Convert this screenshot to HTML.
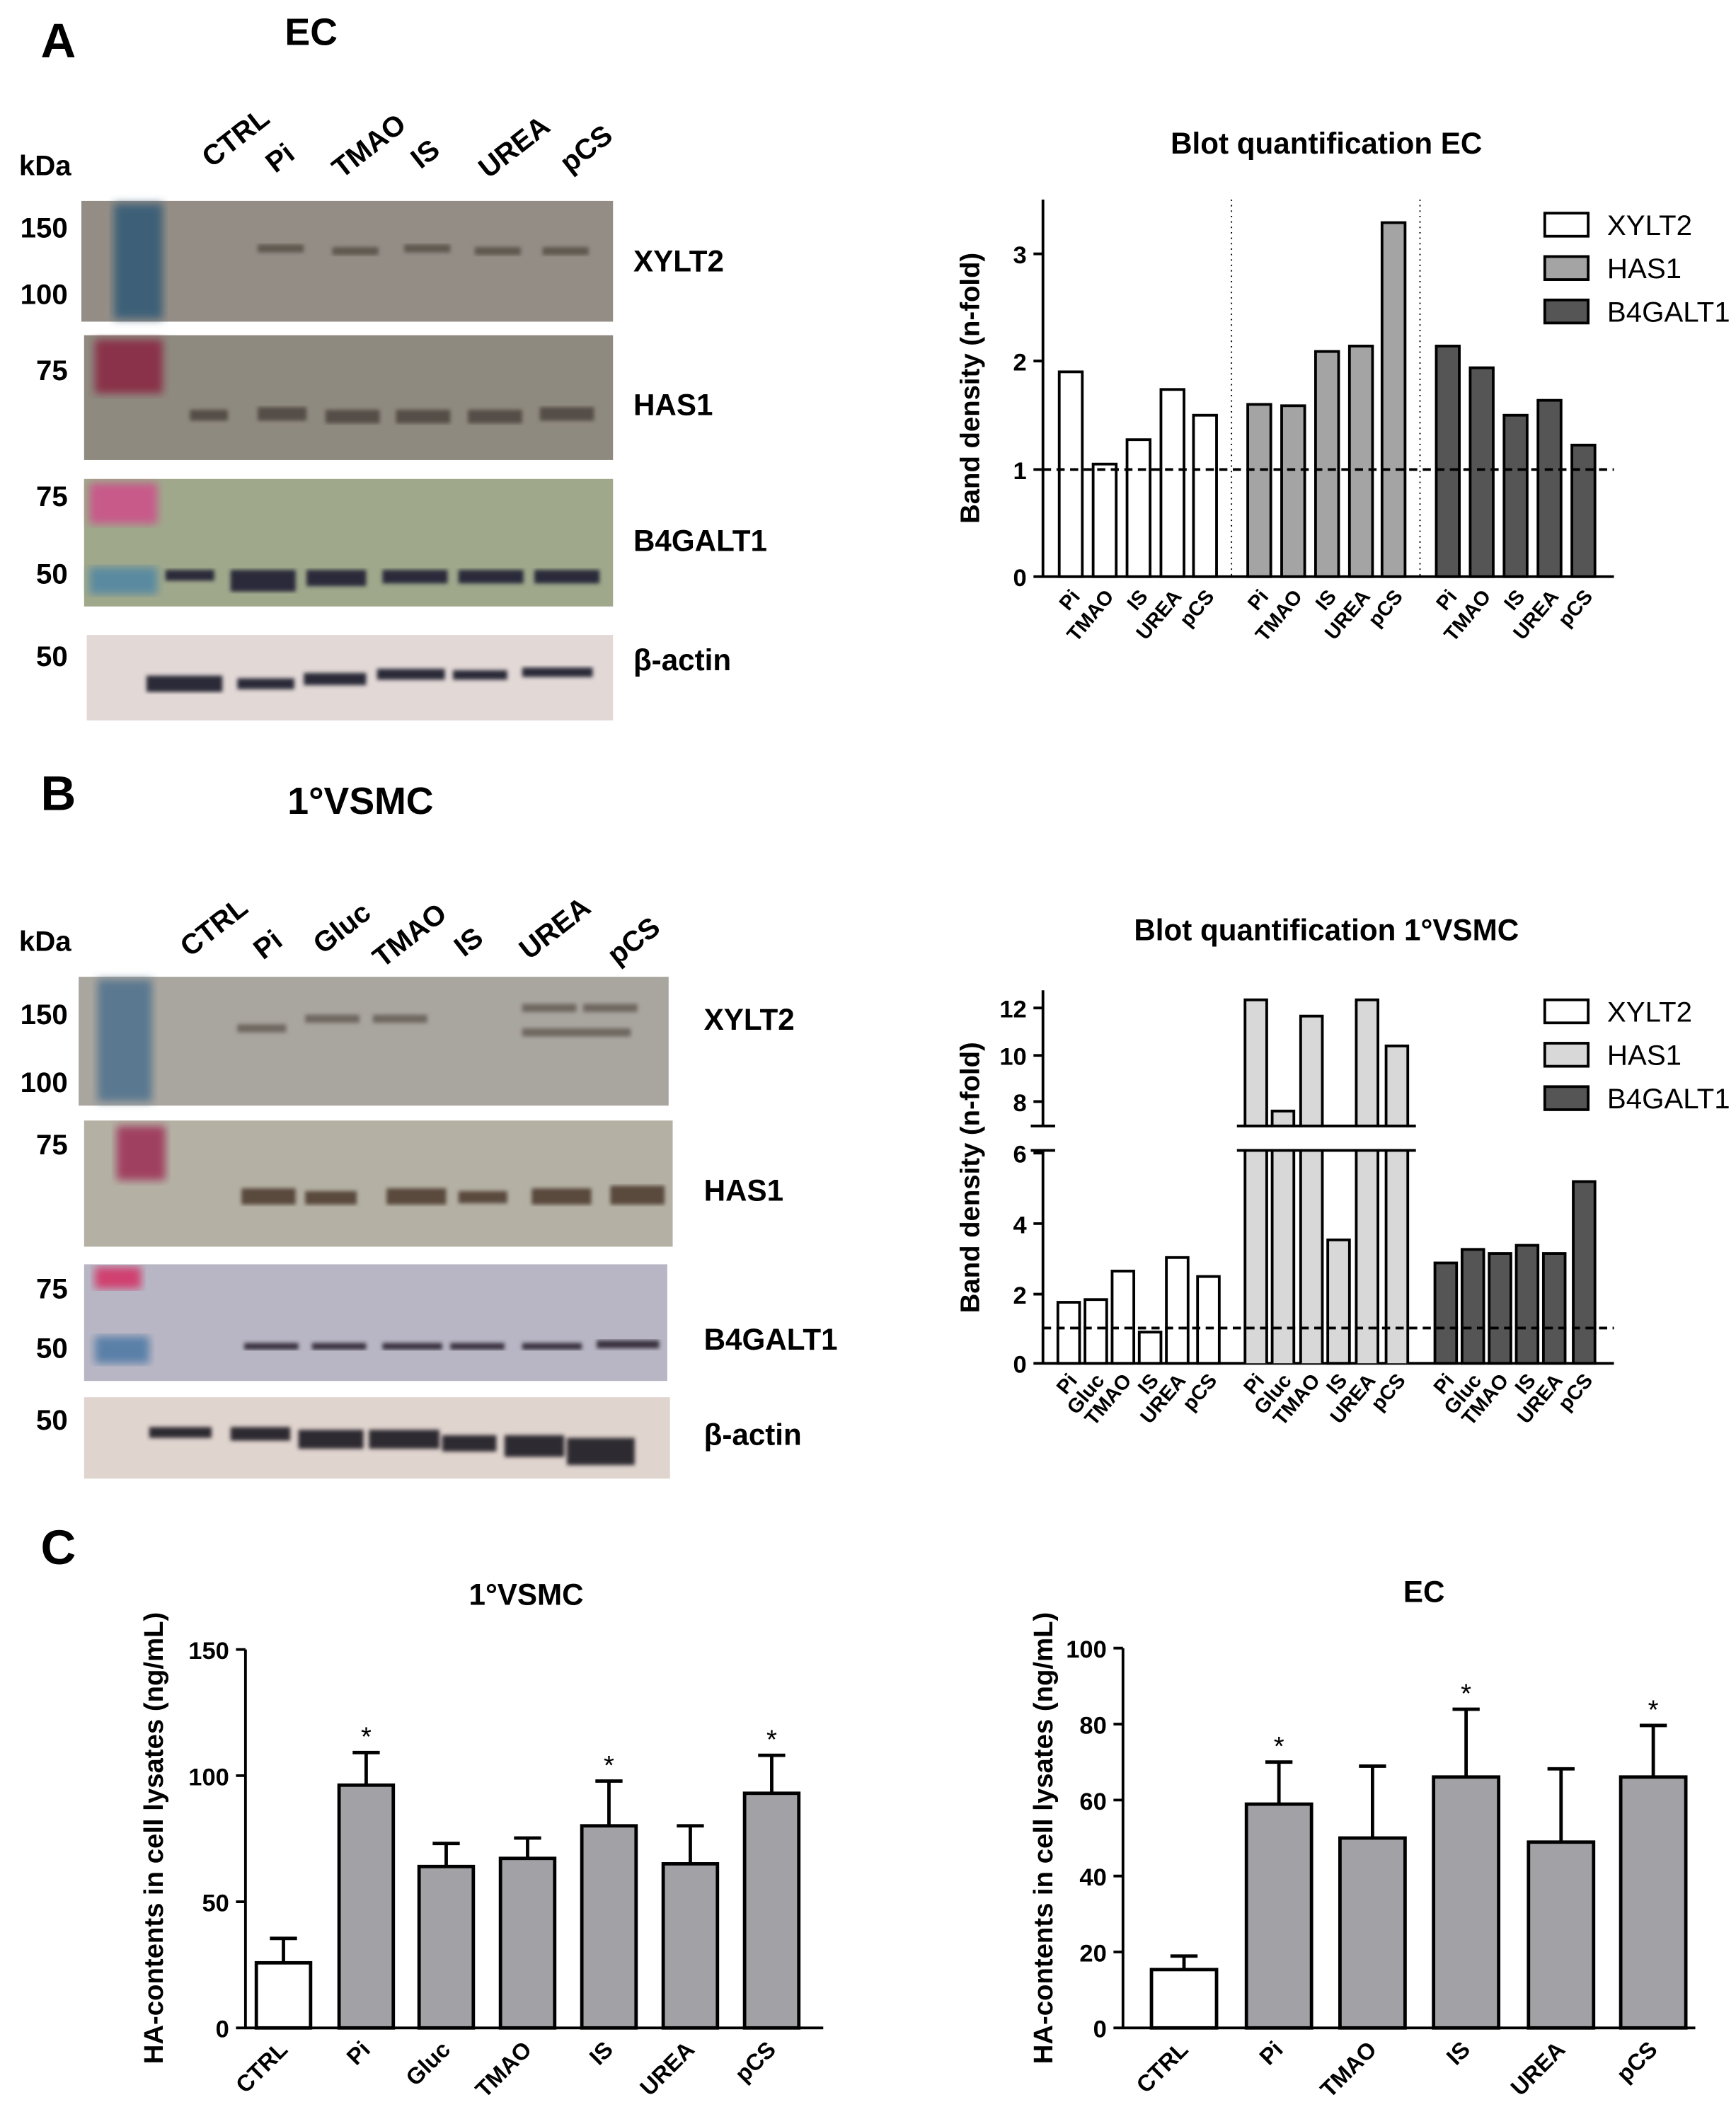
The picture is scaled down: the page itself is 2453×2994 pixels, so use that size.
<!DOCTYPE html><html><head><style>body{margin:0;background:#fff}svg{display:block}text{font-family:"Liberation Sans",Arial,sans-serif}</style></head><body>
<svg width="2453" height="2994" viewBox="0 0 1280 1562" xmlns="http://www.w3.org/2000/svg">
<defs><filter id="bl"><feGaussianBlur stdDeviation="3"/></filter><filter id="bl2"><feGaussianBlur stdDeviation="1.5"/></filter></defs>
<g font-weight="bold" fill="#000">
<text x="30" y="42" font-size="36">A</text>
<text x="210" y="33" font-size="28">EC</text>
<text x="30" y="597" font-size="36">B</text>
<text x="212" y="600" font-size="28">1°VSMC</text>
<text x="30" y="1153" font-size="36">C</text>
<text x="14" y="129" font-size="21">kDa</text>
<text x="14" y="701" font-size="21">kDa</text>
<g font-size="21" text-anchor="end">
<text x="50" y="175">150</text><text x="50" y="224">100</text><text x="50" y="280">75</text>
<text x="50" y="373">75</text><text x="50" y="430">50</text><text x="50" y="491">50</text>
<text x="50" y="755">150</text><text x="50" y="805">100</text><text x="50" y="851">75</text>
<text x="50" y="957">75</text><text x="50" y="1001">50</text><text x="50" y="1054">50</text>
</g>
<g font-size="22">
<text x="467" y="200">XYLT2</text><text x="467" y="306">HAS1</text><text x="467" y="406">B4GALT1</text><text x="467" y="494">β-actin</text>
<text x="519" y="759">XYLT2</text><text x="519" y="885">HAS1</text><text x="519" y="995">B4GALT1</text><text x="519" y="1065">β-actin</text>
</g>
<g font-size="21">
<text transform="translate(156,124) rotate(-38)">CTRL</text>
<text transform="translate(203,128) rotate(-38)">Pi</text>
<text transform="translate(252,132) rotate(-38)">TMAO</text>
<text transform="translate(310,125) rotate(-38)">IS</text>
<text transform="translate(360,132) rotate(-38)">UREA</text>
<text transform="translate(420,128) rotate(-38)">pCS</text>
<text transform="translate(140,706) rotate(-38)">CTRL</text>
<text transform="translate(194,708) rotate(-38)">Pi</text>
<text transform="translate(238,704) rotate(-38)">Gluc</text>
<text transform="translate(282,714) rotate(-38)">TMAO</text>
<text transform="translate(342,706) rotate(-38)">IS</text>
<text transform="translate(390,708) rotate(-38)">UREA</text>
<text transform="translate(455,712) rotate(-38)">pCS</text>
</g>
</g>
<!-- blots A -->
<rect x="60" y="148" width="392" height="89" fill="#938d86"/>
<rect x="84" y="150" width="36" height="85" fill="#3e6078" filter="url(#bl)"/>
<g fill="#5e5850" filter="url(#bl2)"><rect x="190" y="180" width="34" height="6"/><rect x="245" y="182" width="34" height="6"/><rect x="298" y="180" width="34" height="6"/><rect x="350" y="182" width="34" height="6"/><rect x="400" y="182" width="34" height="6"/></g>
<rect x="62" y="247" width="390" height="92" fill="#8f8a80"/>
<rect x="70" y="250" width="50" height="40" fill="#8a3048" filter="url(#bl)"/>
<g fill="#554e46" filter="url(#bl2)"><rect x="140" y="302" width="28" height="8"/><rect x="190" y="300" width="36" height="10"/><rect x="240" y="302" width="40" height="10"/><rect x="292" y="302" width="40" height="10"/><rect x="345" y="302" width="40" height="10"/><rect x="398" y="300" width="40" height="10"/></g>
<rect x="62" y="353" width="390" height="94" fill="#a0a88c"/>
<rect x="66" y="356" width="50" height="30" fill="#c85a8a" filter="url(#bl)"/>
<rect x="66" y="418" width="50" height="20" fill="#5a8aa0" filter="url(#bl)"/>
<g fill="#2a2a3a" filter="url(#bl2)"><rect x="122" y="420" width="36" height="8"/><rect x="170" y="420" width="48" height="16"/><rect x="226" y="420" width="44" height="12"/><rect x="282" y="420" width="48" height="10"/><rect x="338" y="420" width="48" height="10"/><rect x="394" y="420" width="48" height="10"/></g>
<rect x="64" y="468" width="388" height="63" fill="#e2d8d6"/>
<g fill="#2a2a38" filter="url(#bl2)"><rect x="108" y="498" width="56" height="12"/><rect x="175" y="500" width="42" height="8"/><rect x="224" y="496" width="46" height="9"/><rect x="278" y="493" width="50" height="8"/><rect x="334" y="494" width="40" height="7"/><rect x="385" y="492" width="52" height="7"/></g>
<!-- blots B -->
<rect x="58" y="720" width="435" height="95" fill="#a9a59f"/>
<rect x="72" y="722" width="40" height="90" fill="#5a7890" filter="url(#bl)"/>
<g fill="#6e6860" filter="url(#bl2)"><rect x="175" y="755" width="36" height="6"/><rect x="225" y="748" width="40" height="6"/><rect x="275" y="748" width="40" height="6"/><rect x="385" y="740" width="40" height="6"/><rect x="430" y="740" width="40" height="6"/><rect x="385" y="758" width="80" height="6"/></g>
<rect x="62" y="826" width="434" height="93" fill="#b4b1a4"/>
<rect x="86" y="830" width="36" height="40" fill="#a04060" filter="url(#bl)"/>
<g fill="#5a4a3c" filter="url(#bl2)"><rect x="178" y="876" width="40" height="12"/><rect x="225" y="878" width="38" height="10"/><rect x="285" y="876" width="44" height="12"/><rect x="338" y="878" width="36" height="9"/><rect x="392" y="876" width="44" height="12"/><rect x="450" y="874" width="40" height="14"/></g>
<rect x="62" y="932" width="430" height="86" fill="#b8b6c4"/>
<rect x="70" y="934" width="34" height="16" fill="#d04070" filter="url(#bl)"/>
<rect x="70" y="985" width="40" height="20" fill="#5a80a8" filter="url(#bl)"/>
<g fill="#3a3040" filter="url(#bl2)"><rect x="180" y="990" width="40" height="5"/><rect x="230" y="990" width="40" height="5"/><rect x="282" y="990" width="44" height="5"/><rect x="332" y="990" width="40" height="5"/><rect x="385" y="990" width="44" height="5"/><rect x="440" y="988" width="46" height="6"/></g>
<rect x="62" y="1030" width="432" height="60" fill="#e0d4ce"/>
<g fill="#2e2a30" filter="url(#bl2)"><rect x="110" y="1052" width="46" height="8"/><rect x="170" y="1052" width="44" height="10"/><rect x="220" y="1054" width="48" height="14"/><rect x="272" y="1054" width="52" height="14"/><rect x="326" y="1058" width="40" height="12"/><rect x="372" y="1058" width="44" height="16"/><rect x="418" y="1060" width="50" height="20"/></g>

<!-- Chart A right -->
<g>
<text x="978" y="113" font-size="22" font-weight="bold" text-anchor="middle">Blot quantification EC</text>
<text transform="translate(722,286) rotate(-90)" font-size="20" font-weight="bold" text-anchor="middle">Band density (n-fold)</text>
<path d="M769,147V425H1190M762,425H769M762,346H769M762,266H769M762,187H769" stroke="#000" stroke-width="2" fill="none"/>
<g font-size="18" font-weight="bold" text-anchor="end"><text x="757" y="432">0</text><text x="757" y="353">1</text><text x="757" y="273">2</text><text x="757" y="194">3</text></g>
<path d="M908,147V425M1047,147V425" stroke="#000" stroke-dasharray="1,3"/>
<g stroke="#000" stroke-width="2">
<g fill="#fff"><rect x="781" y="274" width="17" height="151"/><rect x="806" y="342" width="17" height="83"/><rect x="831" y="324" width="17" height="101"/><rect x="856" y="287" width="17" height="138"/><rect x="880" y="306" width="17" height="119"/></g>
<g fill="#a4a4a4"><rect x="920" y="298" width="17" height="127"/><rect x="945" y="299" width="17" height="126"/><rect x="970" y="259" width="17" height="166"/><rect x="995" y="255" width="17" height="170"/><rect x="1019" y="164" width="17" height="261"/></g>
<g fill="#555"><rect x="1059" y="255" width="17" height="170"/><rect x="1084" y="271" width="17" height="154"/><rect x="1109" y="306" width="17" height="119"/><rect x="1134" y="295" width="17" height="130"/><rect x="1159" y="328" width="17" height="97"/></g>
</g>
<path d="M769,346H1190" stroke="#000" stroke-width="2" stroke-dasharray="6,4"/>
<g font-size="15" font-weight="bold" text-anchor="end">
<g transform="translate(0,440)"><text transform="translate(797,0) rotate(-50)">Pi</text><text transform="translate(822,0) rotate(-50)">TMAO</text><text transform="translate(847,0) rotate(-50)">IS</text><text transform="translate(872,0) rotate(-50)">UREA</text><text transform="translate(896,0) rotate(-50)">pCS</text>
<text transform="translate(936,0) rotate(-50)">Pi</text><text transform="translate(961,0) rotate(-50)">TMAO</text><text transform="translate(986,0) rotate(-50)">IS</text><text transform="translate(1011,0) rotate(-50)">UREA</text><text transform="translate(1035,0) rotate(-50)">pCS</text>
<text transform="translate(1075,0) rotate(-50)">Pi</text><text transform="translate(1100,0) rotate(-50)">TMAO</text><text transform="translate(1125,0) rotate(-50)">IS</text><text transform="translate(1150,0) rotate(-50)">UREA</text><text transform="translate(1175,0) rotate(-50)">pCS</text></g>
</g>
<g stroke="#000" stroke-width="2"><rect x="1139" y="157" width="32" height="17" fill="#fff"/><rect x="1139" y="189" width="32" height="17" fill="#a4a4a4"/><rect x="1139" y="221" width="32" height="17" fill="#555"/></g>
<g font-size="21"><text x="1185" y="173">XYLT2</text><text x="1185" y="205">HAS1</text><text x="1185" y="237">B4GALT1</text></g>

<!-- Chart B right -->
<text x="978" y="693" font-size="22" font-weight="bold" text-anchor="middle">Blot quantification 1°VSMC</text>
<text transform="translate(722,868) rotate(-90)" font-size="20" font-weight="bold" text-anchor="middle">Band density (n-fold)</text>
<path d="M769,730V830M769,848V1005H1190M762,1005H769M762,954H769M762,902H769M762,850H769M762,812H769M762,778H769M762,743H769M760,830H778M760,848H778" stroke="#000" stroke-width="2" fill="none"/>
<g font-size="18" font-weight="bold" text-anchor="end"><text x="757" y="1012">0</text><text x="757" y="961">2</text><text x="757" y="909">4</text><text x="757" y="857">6</text><text x="757" y="819">8</text><text x="757" y="785">10</text><text x="757" y="750">12</text></g>
<g stroke="#000" stroke-width="2">
<g fill="#fff"><rect x="780" y="960" width="16" height="45"/><rect x="800" y="958" width="16" height="47"/><rect x="820" y="937" width="16" height="68"/><rect x="840" y="982" width="16" height="23"/><rect x="860" y="927" width="16" height="78"/><rect x="883" y="941" width="16" height="64"/></g>
<g fill="#d8d8d8"><path d="M918,1005V737H934V1005M938,1005V819H954V1005M959,1005V749H975V1005M1000,1005V737H1016V1005M1022,1005V771H1038V1005"/><rect x="979" y="914" width="16" height="91"/></g>
<g fill="#555"><rect x="1058" y="931" width="16" height="74"/><rect x="1078" y="921" width="16" height="84"/><rect x="1098" y="924" width="16" height="81"/><rect x="1118" y="918" width="16" height="87"/><rect x="1138" y="924" width="16" height="81"/><rect x="1160" y="871" width="16" height="134"/></g>
</g>
<rect x="910" y="831" width="140" height="16" fill="#fff"/>
<path d="M912,830H1044M912,848H1044" stroke="#000" stroke-width="2"/>
<path d="M769,979H1190" stroke="#000" stroke-width="2" stroke-dasharray="6,4"/>
<g font-size="15" font-weight="bold" text-anchor="end"><g transform="translate(0,1018)">
<text transform="translate(795,0) rotate(-50)">Pi</text><text transform="translate(815,0) rotate(-50)">Gluc</text><text transform="translate(835,0) rotate(-50)">TMAO</text><text transform="translate(855,0) rotate(-50)">IS</text><text transform="translate(875,0) rotate(-50)">UREA</text><text transform="translate(898,0) rotate(-50)">pCS</text>
<text transform="translate(933,0) rotate(-50)">Pi</text><text transform="translate(953,0) rotate(-50)">Gluc</text><text transform="translate(974,0) rotate(-50)">TMAO</text><text transform="translate(994,0) rotate(-50)">IS</text><text transform="translate(1015,0) rotate(-50)">UREA</text><text transform="translate(1037,0) rotate(-50)">pCS</text>
<text transform="translate(1073,0) rotate(-50)">Pi</text><text transform="translate(1093,0) rotate(-50)">Gluc</text><text transform="translate(1113,0) rotate(-50)">TMAO</text><text transform="translate(1133,0) rotate(-50)">IS</text><text transform="translate(1153,0) rotate(-50)">UREA</text><text transform="translate(1175,0) rotate(-50)">pCS</text></g></g>
<g stroke="#000" stroke-width="2"><rect x="1139" y="737" width="32" height="17" fill="#fff"/><rect x="1139" y="769" width="32" height="17" fill="#d8d8d8"/><rect x="1139" y="801" width="32" height="17" fill="#555"/></g>
<g font-size="21"><text x="1185" y="753">XYLT2</text><text x="1185" y="785">HAS1</text><text x="1185" y="817">B4GALT1</text></g>

<!-- C left -->
<text x="388" y="1183" font-size="22" font-weight="bold" text-anchor="middle">1°VSMC</text>
<text transform="translate(120,1355) rotate(-90)" font-size="20" font-weight="bold" text-anchor="middle">HA-contents in cell lysates (ng/mL)</text>
<path d="M181,1216V1495H607M174,1495H181M174,1402H181M174,1309H181M174,1216H181" stroke="#000" stroke-width="2" fill="none"/>
<g font-size="18" font-weight="bold" text-anchor="end"><text x="169" y="1502">0</text><text x="169" y="1409">50</text><text x="169" y="1316">100</text><text x="169" y="1223">150</text></g>
<g stroke="#000" stroke-width="2.5" fill="none"><path d="M209,1447V1429M199,1429H219M270,1316V1292M260,1292H280M329,1376V1359M319,1359H339M389,1370V1355M379,1355H399M449,1346V1313M439,1313H459M509,1374V1346M499,1346H519M569,1322V1294M559,1294H579"/></g>
<g stroke="#000" stroke-width="2.5"><rect x="189" y="1447" width="40" height="48" fill="#fff"/><g fill="#a2a2a6"><rect x="250" y="1316" width="40" height="179"/><rect x="309" y="1376" width="40" height="119"/><rect x="369" y="1370" width="40" height="125"/><rect x="429" y="1346" width="40" height="149"/><rect x="489" y="1374" width="40" height="121"/><rect x="549" y="1322" width="40" height="173"/></g></g>
<g font-size="20" text-anchor="middle"><text x="270" y="1287">*</text><text x="449" y="1308">*</text><text x="569" y="1289">*</text></g>
<g font-size="17" font-weight="bold" text-anchor="end"><g transform="translate(0,1512)"><text transform="translate(213,0) rotate(-45)">CTRL</text><text transform="translate(274,0) rotate(-45)">Pi</text><text transform="translate(333,0) rotate(-45)">Gluc</text><text transform="translate(393,0) rotate(-45)">TMAO</text><text transform="translate(453,0) rotate(-45)">IS</text><text transform="translate(513,0) rotate(-45)">UREA</text><text transform="translate(573,0) rotate(-45)">pCS</text></g></g>

<!-- C right -->
<text x="1050" y="1181" font-size="22" font-weight="bold" text-anchor="middle">EC</text>
<text transform="translate(776,1355) rotate(-90)" font-size="20" font-weight="bold" text-anchor="middle">HA-contents in cell lysates (ng/mL)</text>
<path d="M828,1215V1495H1250M821,1495H828M821,1439H828M821,1383H828M821,1327H828M821,1271H828M821,1215H828" stroke="#000" stroke-width="2" fill="none"/>
<g font-size="18" font-weight="bold" text-anchor="end"><text x="816" y="1502">0</text><text x="816" y="1446">20</text><text x="816" y="1390">40</text><text x="816" y="1334">60</text><text x="816" y="1278">80</text><text x="816" y="1222">100</text></g>
<g stroke="#000" stroke-width="2.5" fill="none"><path d="M873,1452V1442M863,1442H883M943,1330V1299M933,1299H953M1012,1355V1302M1002,1302H1022M1081,1310V1260M1071,1260H1091M1151,1358V1304M1141,1304H1161M1219,1310V1272M1209,1272H1229"/></g>
<g stroke="#000" stroke-width="2.5"><rect x="849" y="1452" width="48" height="43" fill="#fff"/><g fill="#a2a2a6"><rect x="919" y="1330" width="48" height="165"/><rect x="988" y="1355" width="48" height="140"/><rect x="1057" y="1310" width="48" height="185"/><rect x="1127" y="1358" width="48" height="137"/><rect x="1195" y="1310" width="48" height="185"/></g></g>
<g font-size="20" text-anchor="middle"><text x="943" y="1294">*</text><text x="1081" y="1255">*</text><text x="1219" y="1267">*</text></g>
<g font-size="17" font-weight="bold" text-anchor="end"><g transform="translate(0,1512)"><text transform="translate(877,0) rotate(-45)">CTRL</text><text transform="translate(947,0) rotate(-45)">Pi</text><text transform="translate(1016,0) rotate(-45)">TMAO</text><text transform="translate(1085,0) rotate(-45)">IS</text><text transform="translate(1155,0) rotate(-45)">UREA</text><text transform="translate(1223,0) rotate(-45)">pCS</text></g></g>
</g>
</svg>
</body></html>
